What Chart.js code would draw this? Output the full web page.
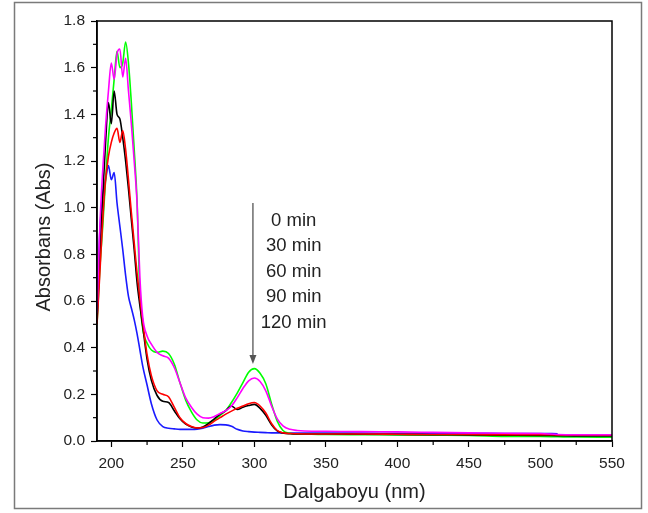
<!DOCTYPE html>
<html>
<head>
<meta charset="utf-8">
<script src="https://cdn.jsdelivr.net/npm/chart.js@4.4.1/dist/chart.umd.min.js"></script>
<style>
  body { margin: 0; background: #fff; }
  canvas { display: block; }
</style>
</head>
<body>
<canvas id="spectra" width="648" height="513"></canvas>
<script>
// wavelengths (nm)
const wavelengths = [190,192,194,196,198,200,202,204,206,208,210,212,214,216,218,220,222,225,228,232,236,240,244,248,252,256,260,264,268,272,276,280,284,288,292,296,300,304,308,312,316,320,325,330,340,350,375,400,425,450,475,500,512,525,550];

// absorbance for each curve
const absBlack = [0.52,0.80,1.05,1.28,1.45,1.36,1.50,1.40,1.38,1.30,1.20,1.08,0.95,0.82,0.68,0.58,0.49,0.35,0.26,0.195,0.17,0.165,0.13,0.095,0.072,0.06,0.056,0.06,0.075,0.095,0.115,0.13,0.15,0.135,0.145,0.152,0.157,0.14,0.11,0.07,0.043,0.034,0.031,0.03,0.03,0.03,0.029,0.028,0.027,0.026,0.025,0.024,0.023,0.022,0.022];
const absRed = [0.50,0.72,0.95,1.12,1.22,1.28,1.32,1.34,1.28,1.33,1.25,1.12,0.98,0.85,0.72,0.61,0.51,0.37,0.28,0.215,0.20,0.19,0.145,0.10,0.075,0.062,0.056,0.058,0.068,0.085,0.10,0.115,0.128,0.14,0.15,0.16,0.165,0.15,0.12,0.075,0.045,0.035,0.032,0.031,0.03,0.03,0.03,0.029,0.028,0.028,0.027,0.027,0.026,0.026,0.026];
const absGreen = [0.50,0.74,0.92,1.12,1.30,1.42,1.55,1.67,1.60,1.62,1.71,1.62,1.45,1.25,1.03,0.62,0.48,0.42,0.39,0.38,0.385,0.375,0.33,0.25,0.175,0.125,0.09,0.077,0.078,0.09,0.11,0.13,0.165,0.205,0.25,0.295,0.31,0.29,0.245,0.16,0.085,0.045,0.033,0.03,0.029,0.028,0.027,0.026,0.025,0.024,0.02,0.019,0.018,0.017,0.016];
const absMagenta = [0.55,0.92,1.16,1.35,1.50,1.62,1.55,1.66,1.68,1.56,1.64,1.50,1.36,1.20,1.02,0.70,0.53,0.45,0.415,0.38,0.365,0.355,0.315,0.25,0.185,0.145,0.115,0.10,0.098,0.105,0.118,0.13,0.15,0.185,0.225,0.258,0.27,0.255,0.215,0.15,0.095,0.065,0.05,0.045,0.042,0.042,0.04,0.039,0.037,0.035,0.033,0.032,0.028,0.027,0.027];
const absBlue = [0.56,0.90,1.05,1.12,1.18,1.12,1.15,1.02,0.92,0.82,0.71,0.62,0.57,0.52,0.46,0.39,0.32,0.24,0.16,0.09,0.062,0.055,0.052,0.05,0.05,0.05,0.051,0.055,0.062,0.068,0.07,0.069,0.063,0.05,0.043,0.04,0.038,0.037,0.036,0.035,0.035,0.034,0.034,0.034,0.034,0.034,0.034,0.033,0.033,0.033,0.032,0.032,0.031,null,null];

const xTickValues = [200,225,250,275,300,325,350,375,400,425,450,475,500,525,550];
const yTickValues = [0,0.1,0.2,0.3,0.4,0.5,0.6,0.7,0.8,0.9,1.0,1.1,1.2,1.3,1.4,1.5,1.6,1.7,1.8];

// annotation: arrow at 300 nm and the time list
const timeLabels = ['0 min', '30 min', '60 min', '90 min', '120 min'];
const arrowAt = 299;
const arrowFrom = 1.02;
const arrowTo = 0.33;
const labelX = 327.5;
const labelTopY = 0.943;
const labelStep = 0.109;

function pts(arr) {
    return wavelengths.map((w, i) => ({ x: w, y: arr[i] }));
}

function isMajor(v, step) { return Math.abs(Math.round(v / step) * step - v) < 1e-6; }

const annotationPlugin = {
    id: 'annot',
    afterDraw(chart) {
        const { ctx, chartArea: a, scales: { x, y } } = chart;
        ctx.save();

        // outer frame of the figure
        ctx.strokeStyle = '#7a7a7a';
        ctx.lineWidth = 1.5;
        ctx.strokeRect(14.5, 2.5, 627, 506);

        // box around plot
        ctx.strokeStyle = '#000';
        ctx.lineWidth = 1.5;
        ctx.strokeRect(a.left, a.top, a.right - a.left, a.bottom - a.top);

        // minor ticks
        ctx.lineWidth = 1.2;
        xTickValues.forEach(v => {
            if (isMajor(v, 50)) return;
            const px = x.getPixelForValue(v);
            ctx.beginPath(); ctx.moveTo(px, a.bottom); ctx.lineTo(px, a.bottom + 4); ctx.stroke();
        });
        yTickValues.forEach(v => {
            if (isMajor(v, 0.2)) return;
            const py = y.getPixelForValue(v);
            ctx.beginPath(); ctx.moveTo(a.left, py); ctx.lineTo(a.left - 4, py); ctx.stroke();
        });

        // arrow
        const ax = x.getPixelForValue(arrowAt);
        const ay1 = y.getPixelForValue(arrowFrom);
        const ay2 = y.getPixelForValue(arrowTo);
        ctx.strokeStyle = '#555';
        ctx.fillStyle = '#555';
        ctx.lineWidth = 1.3;
        ctx.beginPath(); ctx.moveTo(ax, ay1); ctx.lineTo(ax, ay2 - 7); ctx.stroke();
        ctx.beginPath(); ctx.moveTo(ax, ay2); ctx.lineTo(ax - 3.5, ay2 - 9); ctx.lineTo(ax + 3.5, ay2 - 9); ctx.closePath(); ctx.fill();

        // time labels
        ctx.fillStyle = '#222';
        ctx.font = '18.5px "Liberation Sans", Arial, sans-serif';
        ctx.textAlign = 'center';
        ctx.textBaseline = 'middle';
        timeLabels.forEach((t, i) => {
            ctx.fillText(t, x.getPixelForValue(labelX), y.getPixelForValue(labelTopY - i * labelStep));
        });

        // axis titles
        ctx.font = '20px "Liberation Sans", Arial, sans-serif';
        ctx.fillText('Dalgaboyu (nm)', (a.left + a.right) / 2, a.bottom + 51);
        ctx.translate(a.left - 53, (a.top + a.bottom) / 2 + 6);
        ctx.rotate(-Math.PI / 2);
        ctx.fillText('Absorbans (Abs)', 0, 0);
        ctx.restore();
    }
};

const lineSet = (label, arr, color) => ({
    label, data: pts(arr), borderColor: color, borderWidth: 1.6,
    pointRadius: 0, fill: false, cubicInterpolationMode: 'monotone', spanGaps: false
});

new Chart(document.getElementById('spectra'), {
    type: 'line',
    data: {
        datasets: [
            lineSet('magenta', absMagenta, '#ff00ff'),
            lineSet('red', absRed, '#ff0000'),
            lineSet('black', absBlack, '#000000'),
            lineSet('green', absGreen, '#00ff00'),
            lineSet('blue', absBlue, '#1a1aff')
        ]
    },
    options: {
        responsive: false,
        animation: false,
        devicePixelRatio: 1,
        layout: { padding: { top: 21, right: 36, left: 0, bottom: 0 } },
        plugins: { legend: { display: false }, tooltip: { enabled: false } },
        scales: {
            x: {
                type: 'linear', min: 190, max: 550,
                afterBuildTicks: s => { s.ticks = xTickValues.map(v => ({ value: v })); },
                afterFit: s => { s.height = 72; },
                ticks: {
                    autoSkip: false, maxRotation: 0, padding: 7,
                    color: '#222', font: { family: '"Liberation Sans", Arial', size: 15.5 },
                    callback: v => isMajor(v, 50) ? String(v) : ''
                },
                grid: {
                    drawOnChartArea: false, tickLength: 6, tickWidth: 1.2,
                    tickColor: c => (c.tick && isMajor(c.tick.value, 50)) ? '#000' : 'rgba(0,0,0,0)'
                },
                border: { color: '#000', width: 1.5 }
            },
            y: {
                type: 'linear', min: 0, max: 1.8,
                afterBuildTicks: s => { s.ticks = yTickValues.map(v => ({ value: v })); },
                afterFit: s => { s.width = 97; },
                ticks: {
                    autoSkip: false, padding: 6,
                    color: '#222', font: { family: '"Liberation Sans", Arial', size: 15.5 },
                    callback: v => isMajor(v, 0.2) ? v.toFixed(1) : ''
                },
                grid: {
                    drawOnChartArea: false, tickLength: 6, tickWidth: 1.2,
                    tickColor: c => (c.tick && isMajor(c.tick.value, 0.2)) ? '#000' : 'rgba(0,0,0,0)'
                },
                border: { color: '#000', width: 1.5 }
            }
        }
    },
    plugins: [annotationPlugin]
});
</script>
</body>
</html>
